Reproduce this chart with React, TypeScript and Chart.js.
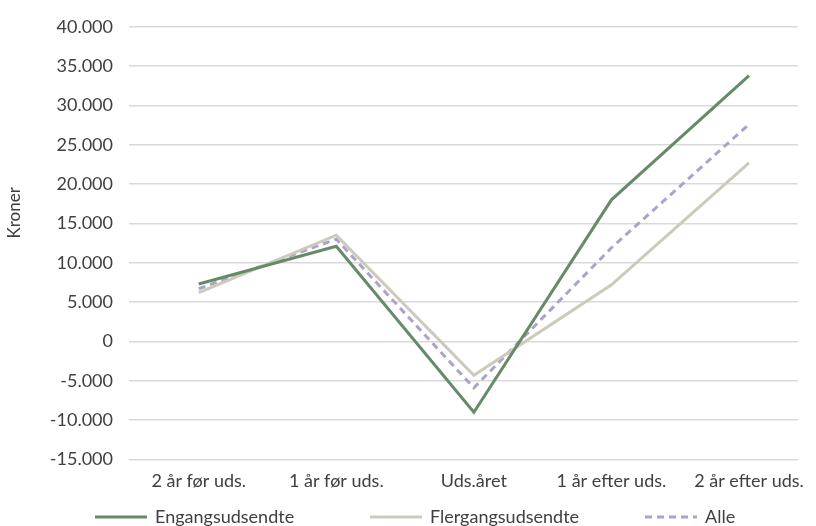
import React, { useEffect, useRef } from "react";
import { Chart, registerables } from "chart.js";

Chart.register(...registerables);

const categories = ["2 år før uds.", "1 år før uds.", "Uds.året", "1 år efter uds.", "2 år efter uds."];
const engang = [7300, 12100, -9000, 18000, 33800];
const flergang = [6200, 13500, -4300, 7200, 22700];
const alle = [6700, 13000, -5900, 11900, 27600];
const yTitle = "Kroner";

const fmt = (v: number) => {
  const s = Math.abs(v).toString().replace(/\B(?=(\d{3})+(?!\d))/g, ".");
  return (v < 0 ? "-" : "") + s;
};
const toXY = (arr: number[]) => arr.map((v, i) => ({ x: i, y: v }));

const FONT = "Lato";
const TEXT = "#404040";

const decorPlugin = {
  id: "decor",
  afterDraw(chart: any) {
    const ctx = chart.ctx;
    const items = chart.data.datasets;
    const slot = 275;
    const lineW = 52;
    const gap = 8;
    const startX = chart.width / 2 - 313;
    const y = chart.height - 9;
    ctx.save();
    ctx.font = `18px ${FONT}`;
    ctx.textBaseline = "middle";
    ctx.textAlign = "left";
    items.forEach((d: any, i: number) => {
      const x = startX + i * slot;
      ctx.beginPath();
      ctx.strokeStyle = d.borderColor;
      ctx.lineWidth = 3;
      ctx.setLineDash(d.borderDash || []);
      ctx.moveTo(x, y);
      ctx.lineTo(x + lineW, y);
      ctx.stroke();
      ctx.setLineDash([]);
      ctx.fillStyle = TEXT;
      ctx.fillText(d.label, x + lineW + gap, y);
    });
    ctx.translate(15, chart.chartArea.top + 186);
    ctx.rotate(-Math.PI / 2);
    ctx.textAlign = "center";
    ctx.font = `17px ${FONT}`;
    ctx.fillText(yTitle, 0, 0);
    ctx.restore();
  },
};

export default function App() {
  const ref = useRef<HTMLCanvasElement>(null);
  useEffect(() => {
    const font = { family: FONT, size: 18 };
    const chart = new Chart(ref.current!, {
      type: "line",
      data: {
        datasets: [
          { label: "Engangsudsendte", data: toXY(engang), borderColor: "#678a68", backgroundColor: "#678a68", borderWidth: 3, pointRadius: 0, tension: 0 },
          { label: "Flergangsudsendte", data: toXY(flergang), borderColor: "#cdc9bc", backgroundColor: "#cdc9bc", borderWidth: 3, pointRadius: 0, tension: 0 },
          { label: "Alle", data: toXY(alle), borderColor: "#aca3ca", backgroundColor: "#aca3ca", borderWidth: 3, borderDash: [7, 5], pointRadius: 0, tension: 0 },
        ],
      },
      plugins: [decorPlugin],
      options: {
        animation: false,
        responsive: false,
        maintainAspectRatio: false,
        layout: { padding: { left: 0, right: 16, top: 8, bottom: 23 } },
        plugins: {
          tooltip: { enabled: false },
          legend: { display: false },
        },
        scales: {
          x: {
            type: "linear",
            min: -0.507,
            max: 4.355,
            grid: { display: false, drawTicks: false },
            border: { display: false },
            ticks: {
              stepSize: 1,
              includeBounds: false,
              autoSkip: false,
              color: TEXT,
              font,
              padding: 11,
              maxRotation: 0,
              callback: (v: any) => (Number.isInteger(Number(v)) ? categories[Number(v)] ?? "" : ""),
            },
          },
          y: {
            min: -15000,
            max: 40000,
            grid: { color: "#d9d9d9", lineWidth: 1.5, drawTicks: false },
            border: { display: false },
            ticks: { stepSize: 5000, color: TEXT, font, padding: 16, callback: (v: any) => fmt(Number(v)) },
            afterFit: (s: any) => { s.width = 129; },
          },
        },
      },
    });
    return () => chart.destroy();
  }, []);
  return (
    <div style={{ position: "fixed", left: 0, top: 0, width: 816, height: 526, background: "#fff" }}>
      <canvas ref={ref} width={816} height={526} style={{ width: 816, height: 526 }} />
    </div>
  );
}
